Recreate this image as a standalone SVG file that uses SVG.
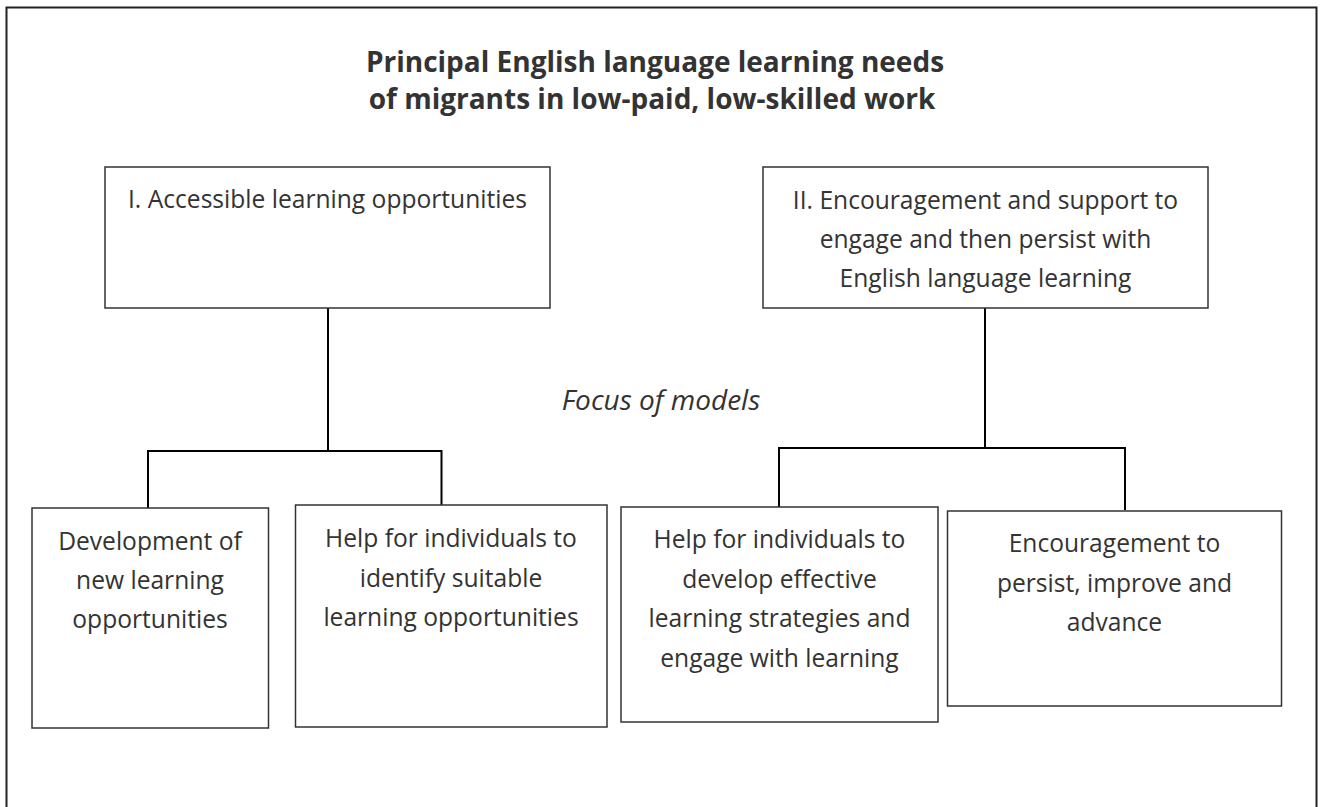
<svg xmlns="http://www.w3.org/2000/svg" width="1322" height="807" viewBox="0 0 1322 807">
<style>
.box{fill:#fff;stroke:#333;stroke-width:1.5}
.t{font-family:"Open Sans","Liberation Sans",sans-serif;font-size:24.6px;fill:#333;text-anchor:middle}
.title{font-family:"Open Sans","Liberation Sans",sans-serif;font-size:28px;font-weight:bold;fill:#333;text-anchor:middle}
.it{font-family:"Open Sans","Liberation Sans",sans-serif;font-size:28px;font-style:italic;fill:#333;text-anchor:middle}
.c{fill:none;stroke:#000;stroke-width:2}
</style>
<rect x="0" y="0" width="1322" height="807" fill="#fff"/>
<rect id="frame" x="6.5" y="7.5" width="1310" height="810" fill="none" stroke="#222" stroke-width="2"/>
<g id="title">
<text class="title" x="655" y="72">Principal English language learning needs</text>
<text class="title" x="652" y="109">of migrants in low-paid, low-skilled work</text>
</g>
<g id="connectors">
<polyline class="c" points="328,308 328,451"/>
<polyline class="c" points="148,508 148,451 441.5,451 441.5,505"/>
<polyline class="c" points="985,308 985,448"/>
<polyline class="c" points="779,507 779,448 1125,448 1125,510"/>
</g>
<g id="nodeI">
<rect class="box" x="105" y="167" width="445" height="141"/>
<text class="t" x="327.5" y="208">I. Accessible learning opportunities</text>
</g>
<g id="nodeII">
<rect class="box" x="763" y="167" width="445" height="141"/>
<text class="t" x="985.5" y="209">II. Encouragement and support to</text>
<text class="t" x="985.5" y="248">engage and then persist with</text>
<text class="t" x="985.5" y="287">English language learning</text>
</g>
<g id="focus">
<text class="it" x="661" y="410">Focus of models</text>
</g>
<g id="nodeA">
<rect class="box" x="32" y="508" width="236.5" height="220"/>
<text class="t" x="150" y="550">Development of</text>
<text class="t" x="150" y="589">new learning</text>
<text class="t" x="150" y="628">opportunities</text>
</g>
<g id="nodeB">
<rect class="box" x="295.5" y="505" width="311.5" height="222"/>
<text class="t" x="451" y="547">Help for individuals to</text>
<text class="t" x="451" y="587">identify suitable</text>
<text class="t" x="451" y="626">learning opportunities</text>
</g>
<g id="nodeC">
<rect class="box" x="621" y="507" width="317" height="215"/>
<text class="t" x="779.5" y="548">Help for individuals to</text>
<text class="t" x="779.5" y="588">develop effective</text>
<text class="t" x="779.5" y="627">learning strategies and</text>
<text class="t" x="779.5" y="667">engage with learning</text>
</g>
<g id="nodeD">
<rect class="box" x="947.5" y="511" width="334" height="195"/>
<text class="t" x="1114.5" y="552">Encouragement to</text>
<text class="t" x="1114.5" y="592">persist, improve and</text>
<text class="t" x="1114.5" y="631">advance</text>
</g>
</svg>
